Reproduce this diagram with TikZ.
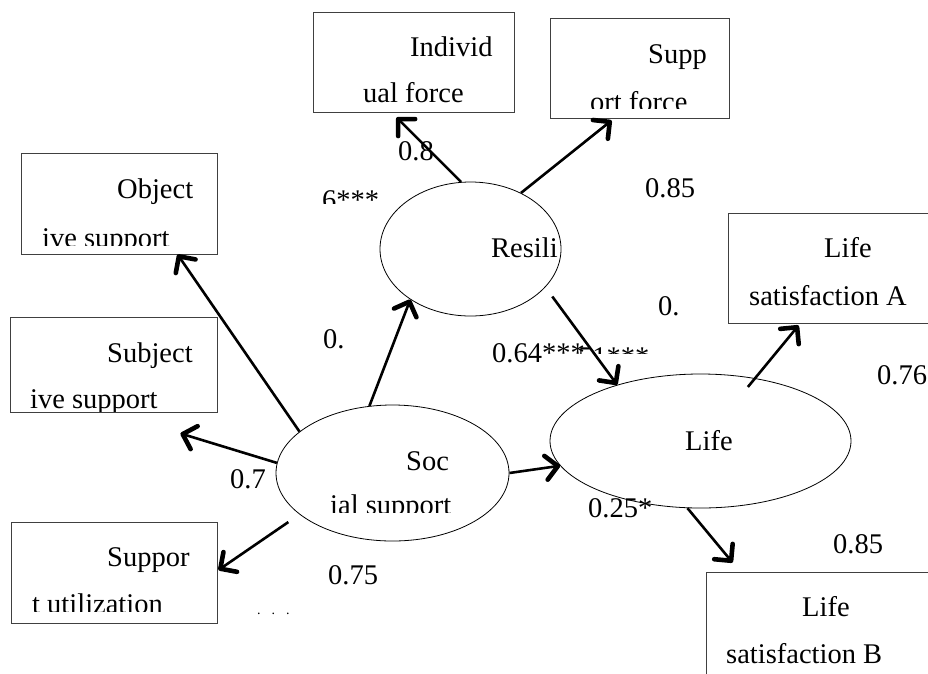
\documentclass[tikz,border=0pt]{standalone}
\usepackage{fontspec}
\setmainfont{Liberation Serif}
\usetikzlibrary{arrows.meta,shapes.geometric}
\begin{document}
\begin{tikzpicture}[x=1pt,y=-1pt,
  box/.style={draw=black!75, line width=0.9pt, rectangle, inner sep=0pt},
  oval/.style={draw=black, line width=0.8pt, ellipse, inner sep=0pt},
  txt/.style={anchor=base west, inner sep=0pt, font=\fontsize{28.5}{34}\selectfont},
  arr/.style={line width=2.6pt, -{Straight Barb[length=12pt,width=24pt,line width=4.6pt,round]}}]
\useasboundingbox (0,0) rectangle (928,673);
\clip (0,0) rectangle (928,673);
\fill[white] (0,0) rectangle (928,673);
% boxes
\node[box, minimum width=201pt, minimum height=100pt] (ind) at (413.5,62) {};
\node[box, minimum width=179pt, minimum height=100pt] (sup) at (639.5,68) {};
\node[box, minimum width=196pt, minimum height=101pt] (obj) at (119,203.5) {};
\node[box, minimum width=207pt, minimum height=95pt] (subj) at (113.5,364.5) {};
\node[box, minimum width=206pt, minimum height=101pt] (util) at (114,572.5) {};
\node[box, minimum width=207pt, minimum height=110pt] (lsa) at (831.5,268) {};
\node[box, minimum width=228pt, minimum height=116pt] (lsb) at (820,630) {};
% ellipses
\node[oval, minimum width=181pt, minimum height=134pt] (res) at (470.5,249) {};
\node[oval, minimum width=233pt, minimum height=136pt] (soc) at (392.5,473) {};
\node[oval, minimum width=301pt, minimum height=134pt] (life) at (700.5,441) {};
% box texts
\node[txt] (tind1) at (410,56) {Individ};
\node[txt] (tind2) at (363,102) {ual force};
\node[txt] (tsup1) at (648,63) {Supp};
\begin{scope}
\clip (550,18) rectangle (729,108);
\node[txt] (tsup2) at (590,111) {ort force};
\end{scope}
\node[txt] (tobj1) at (117,198) {Object};
\begin{scope}
\clip (21,153) rectangle (217,245);
\node[txt] (tobj2) at (42,247) {ive support};
\end{scope}
\node[txt] (tsubj1) at (107,362) {Subject};
\begin{scope}
\clip (10,317) rectangle (217,411);
\node[txt] (tsubj2) at (30,408) {ive support};
\end{scope}
\node[txt] (tutil1) at (107,566) {Suppor};
\begin{scope}
\clip (11,522) rectangle (217,611);
\node[txt] (tutil2) at (32,613) {t utilization};
\end{scope}
\node[txt] (tlsa1) at (824,257) {Life};
\node[txt] (tlsa2) at (749,305) {satisfaction A};
\node[txt] (tlsb1) at (802,616) {Life};
\node[txt] (tlsb2) at (726,663) {satisfaction B};
\node[txt] (tres) at (491,257) {Resili};
\node[txt] (tsoc1) at (406,470) {Soc};
\begin{scope}
\clip (276,405) rectangle (509,512);
\node[txt] (tsoc2) at (330,514) {ial support};
\end{scope}
\node[txt] (tlife) at (685,450) {Life};
% coefficient labels
\node[txt] (l1) at (398,160) {0.8};
\begin{scope}
\clip (300,180) rectangle (400,203);
\node[txt] (l2) at (322,209.5) {6***};
\end{scope}
\node[txt] (l3) at (645,197) {0.85};
\node[txt] (l4) at (323,348) {0.};
\node[txt] (l5) at (658,315) {0.};
\node[txt] (l6) at (492,362) {0.64***};
\begin{scope}
\clip (576,330) rectangle (660,353);
\node[txt] (l7) at (578,366) {51***};
\end{scope}
\node[txt] (l8) at (230,488) {0.7};
\node[txt] (l9) at (328,584) {0.75};
\node[txt] (l10) at (588,517) {0.25*};
\node[txt] (l11) at (833,553) {0.85};
\node[txt] (l12) at (877,384) {0.76};
\node[anchor=base west, inner sep=0pt, font=\fontsize{14}{16}\selectfont] (dots) at (257,614) {.\hspace{11pt}.\hspace{11pt}.};
% arrows
\draw[arr] (res.98.1) -- ([xshift=84pt,yshift=-5pt]ind.south west);
\draw[arr] (res.48) -- ([xshift=62pt,yshift=-2pt]sup.south west);
\draw[arr] (soc.156.6) -- ([xshift=157pt]obj.south west);
\draw[arr] (soc.175) -- ([xshift=-37pt,yshift=-21pt]subj.south east);
\draw[arr, shorten <=13.5pt] (soc.204.2) -- ([xshift=1pt,yshift=2.5pt]util.east);
\draw[arr] (soc.109) -- (res.220);
\draw[arr, shorten <=11.6pt] (res.333.4) -- (life.146);
\draw[arr] (soc.east) -- (life.190);
\draw[arr, shorten <=-11.4pt] (life.49.8) -- ([xshift=71pt,yshift=-2pt]lsa.south west);
\draw[arr] (life.259) -- ([xshift=27pt,yshift=9pt]lsb.north west);
\end{tikzpicture}
\end{document}
